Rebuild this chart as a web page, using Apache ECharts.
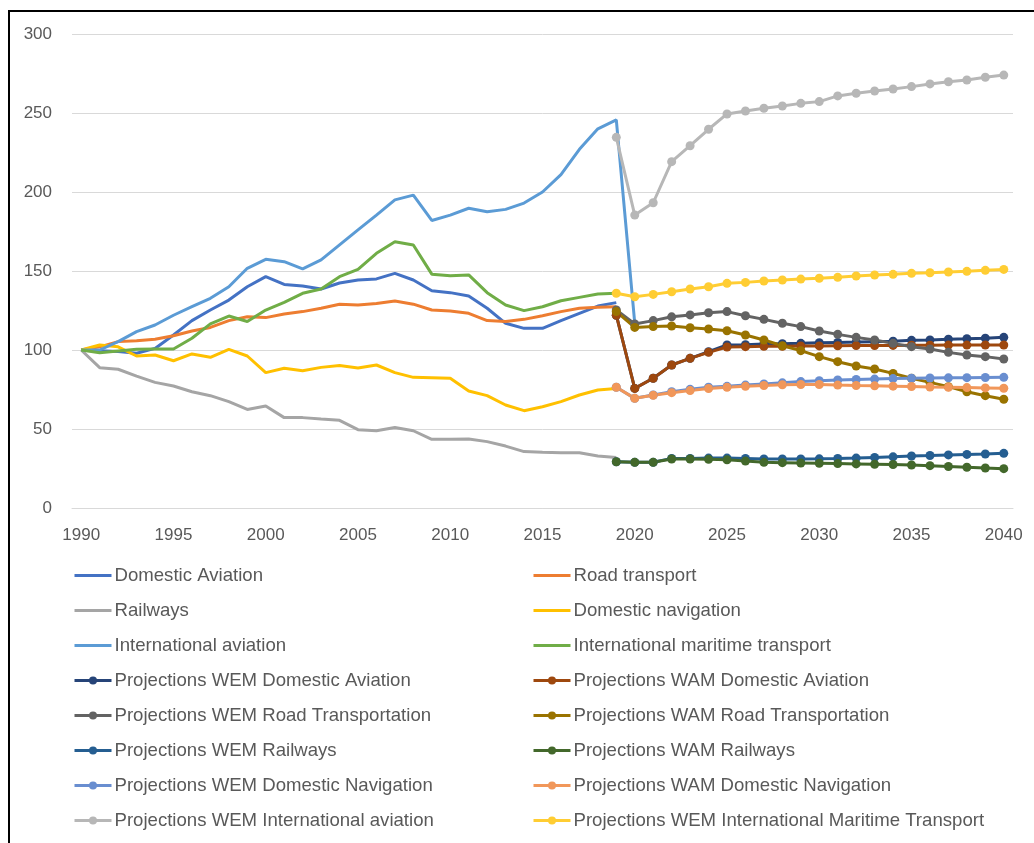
<!DOCTYPE html>
<html>
<head>
<meta charset="utf-8">
<script src="https://cdn.jsdelivr.net/npm/echarts@6/dist/echarts.min.js"></script>
<style>
html,body{margin:0;padding:0;background:#fff;}
#chart{width:1034px;height:843px;}
</style>
</head>
<body>
<div id="chart"></div>
<script>
// Categories
var years = [];
for (var y = 1990; y <= 2040; y++) years.push(String(y));
var yTicks = [0, 50, 100, 150, 200, 250, 300];

// Historical values 1990-2019
var histYears = ['1990','1991','1992','1993','1994','1995','1996','1997','1998','1999','2000','2001','2002','2003','2004','2005','2006','2007','2008','2009','2010','2011','2012','2013','2014','2015','2016','2017','2018','2019'];
var domesticAviation = [100,99.5,99,97.9,101,109.5,118.6,125.3,131.6,140,146.4,141.5,140.5,138.6,142.4,144.3,145,148.5,144.3,137.5,136.3,134.2,126.4,116.9,113.7,113.7,118.6,123.2,127.8,130];
var roadTransport = [100,102,105.3,105.9,106.8,109,112,114.3,118.6,121,120.5,122.8,124.3,126.4,128.9,128.5,129.5,131,129,125.3,124.7,123.2,118.6,118,119.4,121.7,124.3,126.4,127,127.4];
var railways = [100,88.8,87.8,83.5,79.5,77.2,73.6,71.1,67.3,62.4,64.6,57.2,57.2,56.3,55.5,49.6,48.9,51,48.9,43.5,43.5,43.7,42,39.2,35.7,35.3,35,35,32.9,32];
var domesticNavigation = [100,103.2,102,96.2,96.8,93.2,97.5,95.4,100.4,96.2,85.7,88.4,86.9,89,90.2,88.6,90.5,85.7,82.7,82.5,82.1,74,71.1,65.2,61.6,64.1,67.3,71.5,74.7,75.7];
var internationalAviationYears = histYears.concat(['2020']);
var internationalAviation = [100,100,105.3,111.6,115.8,122,127.4,132.7,140,151.7,157.4,155.9,151.3,157,166.5,176,185.4,195,198,182,185.4,189.7,187.5,189,193,200,211,227,240,245.6,117];
var internationalMaritime = [100,98.3,99.4,100.4,100.6,100.6,107.4,116.5,121.5,118,125.3,130.2,135.9,138.6,146.4,151,161.2,168.5,166.5,148,147,147.5,136.3,128.5,124.9,127.4,131.2,133.3,135.4,135.9];

// Projections 2019-2040
var projYears = ['2019','2020','2021','2022','2023','2024','2025','2026','2027','2028','2029','2030','2031','2032','2033','2034','2035','2036','2037','2038','2039','2040'];
var wemDomesticAviation = [122,75.7,82.1,90.5,94.7,98.9,103.2,103.4,103.8,104,104.2,104.6,104.8,105,105.3,105.6,106.1,106.4,106.8,107.1,107.5,108];
var wamDomesticAviation = [122,75.7,82.1,90.5,94.7,98.5,101.9,102.1,102.3,102.4,102.5,102.6,102.7,102.8,102.8,102.9,103,103,103.1,103.1,103.2,103.2];
var wemRoad = [125.3,116.5,118.6,121,122.2,123.6,124.3,121.7,119.4,116.9,114.8,112,109.9,108,106.3,104.2,102.1,100.6,98.5,96.8,95.8,94.3];
var wamRoad = [124.3,114.3,114.8,115.2,114.1,113.3,112.2,109.5,106.3,102.7,99.6,95.8,92.6,89.9,88,85.2,82.1,79.5,76.8,73.6,71.1,68.8];
var wemRailways = [29.3,28.9,28.9,31.4,31.4,31.6,31.6,31.4,31,31,31,31.1,31.3,31.6,32,32.4,32.9,33.2,33.6,33.9,34.2,34.6];
var wamRailways = [29.3,28.9,28.9,31,31,30.8,30.5,29.7,28.9,28.7,28.5,28.3,28.1,27.9,27.7,27.5,27.2,26.8,26.3,25.8,25.3,24.9];
var wemDomesticNavigation = [76.4,69.4,71.5,73.6,75.1,76.4,77,77.8,78.5,79.2,80,80.6,81,81.3,81.6,81.9,82.1,82.3,82.4,82.5,82.6,82.7];
var wamDomesticNavigation = [76.4,69.4,71.3,73,74.3,75.6,76.4,77,77.5,78,78.2,78.2,77.8,77.5,77.3,77.1,76.9,76.6,76.4,76.2,76,75.8];
var wemInternationalAviation = [234.6,185.4,193.2,219.2,229.3,239.7,249.4,251.3,253,254.4,256.1,257.2,260.8,262.5,263.9,265.2,266.7,268.4,269.8,270.9,272.6,274];
var wemInternationalMaritime = [135.9,133.7,135.2,136.9,138.6,140,142.2,142.8,143.7,144.3,144.9,145.4,146,146.8,147.5,147.9,148.5,148.9,149.4,149.8,150.4,151];

function pairs(xs, vs) { return xs.map(function (x, i) { return [x, vs[i]]; }); }

var FONT = 'Liberation Sans';
var TXT = '#595959';

function hist(name, color, xs, vs) {
  return { name: name, type: 'line', data: pairs(xs, vs), showSymbol: false, symbol: 'none',
    lineStyle: { color: color, width: 3 }, itemStyle: { color: color }, emphasis: { disabled: true },
    isHist: true };
}
function proj(name, color, vs) {
  return { name: name, type: 'line', data: pairs(projYears, vs), symbol: 'circle', symbolSize: 9,
    lineStyle: { color: color, width: 3 }, itemStyle: { color: color }, emphasis: { disabled: true } };
}

var series = [
  hist('Domestic Aviation', '#4472C4', histYears, domesticAviation),
  hist('Road transport', '#ED7D31', histYears, roadTransport),
  hist('Railways', '#A5A5A5', histYears, railways),
  hist('Domestic navigation', '#FFC000', histYears, domesticNavigation),
  hist('International aviation', '#5B9BD5', internationalAviationYears, internationalAviation),
  hist('International maritime transport', '#70AD47', histYears, internationalMaritime),
  proj('Projections WEM Domestic Aviation', '#264478', wemDomesticAviation),
  proj('Projections WAM Domestic Aviation', '#9E480E', wamDomesticAviation),
  proj('Projections WEM Road Transportation', '#636363', wemRoad),
  proj('Projections WAM Road Transportation', '#997300', wamRoad),
  proj('Projections WEM Railways', '#255E91', wemRailways),
  proj('Projections WAM Railways', '#43682B', wamRailways),
  proj('Projections WEM Domestic Navigation', '#698ED0', wemDomesticNavigation),
  proj('Projections WAM Domestic Navigation', '#F1975A', wamDomesticNavigation),
  proj('Projections WEM International aviation', '#B7B7B7', wemInternationalAviation),
  proj('Projections WEM International Maritime Transport', '#FFCD33', wemInternationalMaritime)
];

var legendItems = series.map(function (s) {
  var it = { name: s.name };
  if (s.isHist) it.itemStyle = { opacity: 0 };
  delete s.isHist;
  return it;
});
var leftItems = legendItems.filter(function (n, i) { return i % 2 === 0; });
var rightItems = legendItems.filter(function (n, i) { return i % 2 === 1; });

var legendCommon = {
  orient: 'vertical', itemWidth: 37, itemHeight: 10, itemGap: 16, height: 276,
  lineStyle: { width: 3 },
  textStyle: { fontFamily: FONT, fontSize: 18.6, color: TXT, lineHeight: 18, padding: [0,0,0,-2] },
  selectedMode: false, padding: 0
};

var chart = echarts.init(document.getElementById('chart'), null, { renderer: 'canvas' });
chart.setOption({
  animation: false,
  backgroundColor: '#fff',
  graphic: [{ type: 'rect', shape: { x: 9, y: 11, width: 1100, height: 1000 },
    style: { fill: 'none', stroke: '#000', lineWidth: 2 }, silent: true, z: 100 }],
  grid: { left: 72, right: 21, top: 34, bottom: 335, containLabel: false },
  legend: [
    Object.assign({ data: leftItems, left: 73, top: 566 }, legendCommon),
    Object.assign({ data: rightItems, left: 532, top: 566 }, legendCommon)
  ],
  xAxis: {
    type: 'category', data: years, boundaryGap: true,
    axisLine: { lineStyle: { color: '#D9D9D9', width: 1 } },
    axisTick: { show: false },
    axisLabel: { interval: 4, color: TXT, fontFamily: FONT, fontSize: 17, margin: 19 },
    splitLine: { show: false }
  },
  yAxis: {
    type: 'value', min: yTicks[0], max: yTicks[yTicks.length - 1], interval: 50,
    axisLine: { show: false }, axisTick: { show: false },
    axisLabel: { color: TXT, fontFamily: FONT, fontSize: 17, margin: 20 },
    splitLine: { lineStyle: { color: '#D9D9D9', width: 1 } }
  },
  series: series
});
</script>
</body>
</html>
